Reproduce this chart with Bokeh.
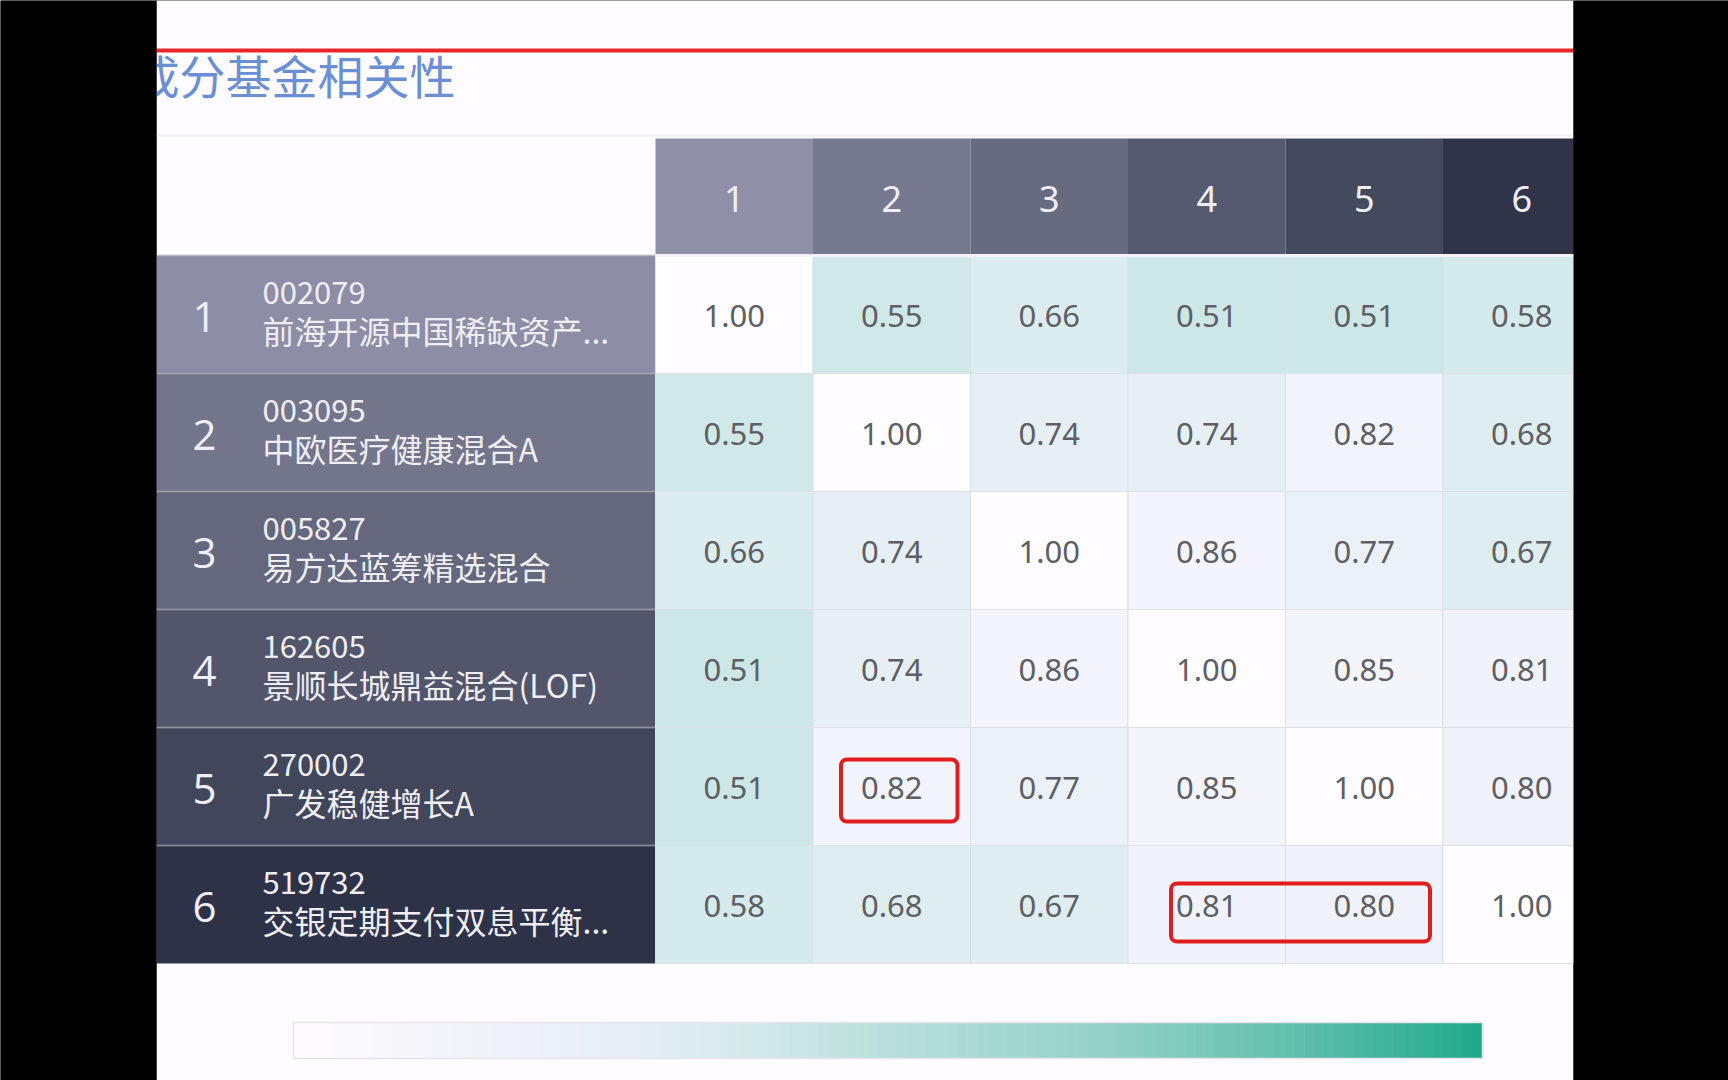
from bokeh.plotting import figure
from bokeh.models import Range1d, ColumnDataSource, BoxAnnotation
from bokeh.core.properties import value
from bokeh.embed import file_html
from bokeh.resources import INLINE

# ---------------- data ----------------
title = "成分基金相关性"
col_labels = ["1", "2", "3", "4", "5", "6"]
row_numbers = ["1", "2", "3", "4", "5", "6"]
fund_codes = ["002079", "003095", "005827", "162605", "270002", "519732"]
fund_names = ["前海开源中国稀缺资产...", "中欧医疗健康混合A", "易方达蓝筹精选混合",
              "景顺长城鼎益混合(LOF)", "广发稳健增长A", "交银定期支付双息平衡..."]
corr_1 = [1.00, 0.55, 0.66, 0.51, 0.51, 0.58]
corr_2 = [0.55, 1.00, 0.74, 0.74, 0.82, 0.68]
corr_3 = [0.66, 0.74, 1.00, 0.86, 0.77, 0.67]
corr_4 = [0.51, 0.74, 0.86, 1.00, 0.85, 0.81]
corr_5 = [0.51, 0.82, 0.77, 0.85, 1.00, 0.80]
corr_6 = [0.58, 0.68, 0.67, 0.81, 0.80, 1.00]
corr = [corr_1, corr_2, corr_3, corr_4, corr_5, corr_6]
# highlighted cells: (row index, first col index, last col index)
highlights = [(4, 1, 1), (5, 3, 4)]

# ---------------- style ----------------
header_colors = ["#8f8fa8", "#75788e", "#676b80", "#565a70", "#434a5d", "#2f3449"]
label_colors = ["#8d8da5", "#73758a", "#65687d", "#53566b", "#41465a", "#2e3246"]
cell_stops_v = [0.50, 0.58, 0.66, 0.74, 0.82, 0.90, 1.00]
cell_stops_c = ["#cce6e5", "#d4eaec", "#dcedef", "#e6f0f4", "#f2f4fb", "#f6f6fc", "#fefcfe"]
bar_stops_f = [0.0, 0.2, 0.35, 0.5, 0.7, 0.85, 1.0]
bar_stops_c = ["#fefbfe", "#eef1f8", "#dcebef", "#b9dfd9", "#8fd0c3", "#5fbeab", "#1fa88a"]
hl_pad_left = [28, 43]
hl_pad_top = [32, 38]
hl_pad_right = [13, 13]
hl_pad_bottom = [24, 22]

W, H = 1728, 1080
X0, X1 = 156, 1573
TX, CW = 655, 157.5
HY, HH = 138, 116
RY, RH = 255, 118
NUM_FONT = value("Noto Sans")
CJK_FONT = value("Noto Sans CJK SC")


def hx(c):
    c = c.lstrip("#")
    return [int(c[i:i + 2], 16) for i in (0, 2, 4)]


def interp(v, stops, cols):
    if v <= stops[0]:
        return cols[0]
    for i in range(1, len(stops)):
        if v <= stops[i]:
            t = (v - stops[i - 1]) / (stops[i] - stops[i - 1])
            a, b = hx(cols[i - 1]), hx(cols[i])
            return "#%02x%02x%02x" % tuple(round(a[k] + (b[k] - a[k]) * t) for k in range(3))
    return cols[-1]


p = figure(width=W, height=H, x_range=Range1d(0, W), y_range=Range1d(H, 0),
           output_backend="svg", toolbar_location=None, min_border=0)
p.axis.visible = False
p.grid.visible = False
p.outline_line_color = None
p.background_fill_color = "black"
p.border_fill_color = "black"

# white page
p.quad(left=[X0], right=[X1], top=[0], bottom=[H], fill_color="#fefcfe", line_color=None)

# title + lines
p.text(x=[133], y=[73], text=[title], text_font=CJK_FONT, text_font_size="46px",
       text_color="#6a8fd4", text_baseline="middle", text_align="left")
p.segment(x0=[X0], x1=[X1], y0=[50], y1=[50], line_color="#e8262a", line_width=4)
p.segment(x0=[X0], x1=[X1], y0=[135], y1=[135], line_color="#f0edf2", line_width=2)

n = len(col_labels)
# header cells
hsrc = ColumnDataSource(dict(
    left=[TX + i * CW for i in range(n)], right=[TX + (i + 1) * CW for i in range(n)],
    top=[HY] * n, bottom=[HY + HH] * n, color=header_colors,
    x=[TX + (i + 0.5) * CW for i in range(n)], y=[HY + HH * 0.52] * n, label=col_labels))
p.quad(left="left", right="right", top="top", bottom="bottom", fill_color="color",
       line_color=None, source=hsrc)
p.text(x="x", y="y", text="label", source=hsrc, text_font=NUM_FONT, text_font_size="36px",
       text_color="#eeeef4", text_align="center", text_baseline="middle")

# row label cells
m = len(row_numbers)
lsrc = ColumnDataSource(dict(
    top=[RY + j * RH for j in range(m)], bottom=[RY + (j + 1) * RH for j in range(m)],
    color=label_colors, num=row_numbers, code=fund_codes, name=fund_names,
    yn=[RY + (j + 0.5) * RH + 2 for j in range(m)],
    ycode=[RY + (j + 0.5) * RH - 22 for j in range(m)],
    yname=[RY + (j + 0.5) * RH + 15 for j in range(m)]))
p.quad(left=X0, right=TX, top="top", bottom="bottom", fill_color="color",
       line_color=None, source=lsrc)
p.segment(x0=X0, x1=TX, y0="top", y1="top", line_color="#a9a9b8", line_alpha=0.5,
          line_width=2, source=lsrc)
p.text(x=204, y="yn", text="num", source=lsrc, text_font=value("Open Sans"),
       text_font_size="42px", text_color="#eeeef4", text_align="center", text_baseline="middle")
p.text(x=262, y="ycode", text="code", source=lsrc, text_font=CJK_FONT,
       text_font_size="31px", text_color="#eeeef4", text_align="left", text_baseline="middle")
p.text(x=262, y="yname", text="name", source=lsrc, text_font=CJK_FONT,
       text_font_size="32px", text_color="#eeeef4", text_align="left", text_baseline="middle")

# data cells
L, R, T, B, C, XS, YS, TXT = [], [], [], [], [], [], [], []
for j, row in enumerate(corr):
    for i, v in enumerate(row):
        L.append(TX + i * CW); R.append(TX + (i + 1) * CW)
        T.append(RY + j * RH); B.append(RY + (j + 1) * RH)
        C.append(interp(v, cell_stops_v, cell_stops_c))
        XS.append(TX + (i + 0.5) * CW); YS.append(RY + (j + 0.5) * RH + 1)
        TXT.append("%.2f" % v)
csrc = ColumnDataSource(dict(left=L, right=R, top=T, bottom=B, color=C, x=XS, y=YS, t=TXT))
p.quad(left="left", right="right", top="top", bottom="bottom", fill_color="color",
       line_color="#dde0e6", line_width=1, source=csrc)
p.text(x="x", y="y", text="t", source=csrc, text_font=NUM_FONT, text_font_size="31px",
       text_color="#5e5e64", text_align="center", text_baseline="middle")
p.segment(x0=[TX], x1=[TX + n * CW], y0=[RY], y1=[RY], line_color="#f4f2f6", line_width=3)

# highlight boxes
for k, (j, c0, c1) in enumerate(highlights):
    p.add_layout(BoxAnnotation(left=TX + c0 * CW + hl_pad_left[k],
                               right=TX + (c1 + 1) * CW - hl_pad_right[k],
                               top=RY + j * RH + hl_pad_top[k],
                               bottom=RY + (j + 1) * RH - hl_pad_bottom[k],
                               fill_alpha=0, line_color="#e01e1e", line_alpha=1.0,
                               line_width=4, border_radius=6, level="overlay"))

# colour bar
BX0, BX1, BY0, BY1 = 293, 1482, 1022, 1058
ns = 120
bw = (BX1 - BX0) / ns
p.quad(left=[BX0 + k * bw for k in range(ns)], right=[BX0 + (k + 1) * bw + 0.6 for k in range(ns)],
       top=[BY0] * ns, bottom=[BY1] * ns,
       fill_color=[interp((k + 0.5) / ns, bar_stops_f, bar_stops_c) for k in range(ns)],
       line_color=None)
p.quad(left=[BX0], right=[BX1], top=[BY0], bottom=[BY1], fill_color=None,
       line_color="#e8e4ec", line_width=1.5)

# black borders of the screenshot
p.quad(left=[0, X1], right=[X0, W], top=[0, 0], bottom=[H, H], fill_color="black", line_color=None)

open("out.html", "w").write(file_html(p, INLINE))
